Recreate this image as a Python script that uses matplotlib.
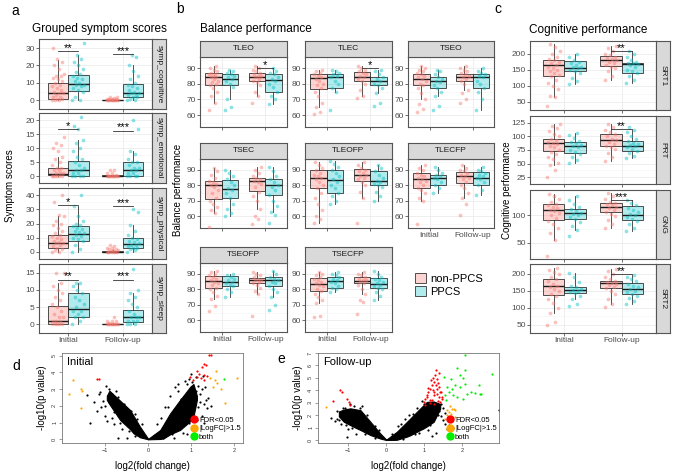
import numpy as np
import matplotlib
matplotlib.use("Agg")
import matplotlib.pyplot as plt
from matplotlib.patches import Patch
from matplotlib.lines import Line2D
from matplotlib.colors import to_rgba

plt.rcParams['font.family'] = ['Liberation Sans', 'DejaVu Sans']

NON = '#F8766D'
PP = '#00BFC4'
groups = ['non-PPCS', 'PPCS']
times = ['Initial', 'Follow-up']

# ---------------- panel a: grouped symptom scores ----------------
symp_names = ['symp_cognitive', 'symp_emotional', 'symp_physical', 'symp_sleep']
# box stats per box: [whisker low, q1, median, q3, whisker high]
# order: Initial non-PPCS, Initial PPCS, Follow-up non-PPCS, Follow-up PPCS
cog_stats = [[0, 1, 4, 10, 23], [0, 5.5, 9.5, 14.5, 26], [0, 0, 0.2, 0.4, 0.8], [0, 2, 4, 9.5, 20]]
emo_stats = [[0, 0.3, 0.8, 3, 7], [0, 0, 2, 5.5, 13], [0, 0, 0, 0.2, 0.5], [0, 0, 2, 5, 9]]
phy_stats = [[0, 3, 6, 12, 25], [0, 8, 12.5, 18, 32], [0, 0, 0.2, 0.5, 1], [0, 3, 5.5, 10, 19]]
slp_stats = [[0, 0, 1, 5.2, 12], [0, 2, 4.6, 9, 12], [0, 0, 0, 0.1, 0.3], [0, 0.7, 2, 4.2, 9]]

cog_pts = [[0, 0, 0, 1, 1, 2, 2, 3, 4, 4, 5, 6, 7, 8, 9, 10, 11, 12, 13, 14, 14, 15, 18, 20, 22, 24, 30],
           [0, 0, 2, 5, 6, 7, 8, 9, 9, 10, 11, 12, 13, 14, 15, 16, 18, 20, 22, 24, 26, 33],
           [0, 0, 0, 0, 0, 0, 0, 0, 0, 0, 0.5, 0.5, 1, 1, 1.5, 2, 2],
           [0, 0, 1, 2, 2, 3, 3, 4, 4, 5, 6, 7, 8, 9, 10, 12, 14, 17, 20, 25, 26]]
emo_pts = [[0, 0, 0, 0, 0, 0, 1, 1, 1, 2, 2, 3, 3, 4, 5, 6, 7, 9, 10, 11, 12, 14],
           [0, 0, 0, 0, 1, 1, 2, 2, 3, 4, 5, 6, 7, 9, 10, 12, 13, 17, 18, 21],
           [0, 0, 0, 0, 0, 0, 0, 0, 0, 0, 0, 0.5, 1, 1, 2, 2],
           [0, 0, 0, 0, 1, 1, 2, 2, 3, 3, 4, 5, 5, 6, 8, 9, 17, 20]]
phy_pts = [[0, 0, 1, 2, 3, 4, 5, 6, 6, 7, 8, 9, 10, 11, 12, 13, 15, 17, 19, 20, 22, 25, 26, 35, 40],
           [0, 2, 5, 8, 9, 10, 11, 12, 13, 14, 15, 16, 17, 18, 19, 20, 22, 25, 32, 40],
           [0, 0, 0, 0, 0, 0, 0, 0.5, 1, 1, 2, 2, 3, 3, 4, 5],
           [0, 1, 2, 3, 3, 4, 5, 5, 6, 7, 8, 9, 10, 12, 15, 19, 28, 30]]
slp_pts = [[0, 0, 0, 0, 0, 1, 1, 1, 2, 2, 3, 4, 5, 6, 7, 8, 9, 10, 11, 12, 15, 15],
           [0, 1, 2, 2, 3, 4, 4, 5, 6, 7, 8, 9, 10, 11, 12, 12],
           [0, 0, 0, 0, 0, 0, 0, 0, 0, 0, 0.5, 1, 1, 1, 2],
           [0, 0, 0, 1, 1, 1, 2, 2, 2, 3, 4, 5, 6, 7, 8, 9, 10, 16]]
# significance: (time index, label, bracket height)
cog_sig = [(0, '**', 28.4), (1, '***', 26.5)]
emo_sig = [(0, '*', 16.9), (1, '***', 16.3)]
phy_sig = [(0, '*', 32.9), (1, '***', 32.3)]
slp_sig = [(0, '**', 13.0), (1, '***', 13.0)]

# ---------------- panel b: balance performance ----------------
bal_names = ['TLEO', 'TLEC', 'TSEO', 'TSEC', 'TLEOFP', 'TLECFP', 'TSEOFP', 'TSECFP']
tleo_stats = [[68, 79, 84, 87, 91], [70, 79.5, 83, 86.5, 89], [72, 81.5, 84.5, 87, 91], [67, 75, 82.5, 86, 90]]
tlec_stats = [[65, 76.5, 83.5, 86, 89], [75, 77.5, 84, 86.5, 89], [72, 81.5, 84.5, 87.5, 91], [74, 79.5, 82, 84, 89]]
tseo_stats = [[70, 79.5, 83, 86.5, 91], [72, 77.5, 82, 84.5, 89], [76, 82, 84.5, 86.5, 91], [63, 77, 84, 86.5, 90]]
tsec_stats = [[62, 71.5, 80, 82.5, 91], [60, 72, 77.5, 83.5, 90], [65, 76.5, 82.5, 85, 92], [63, 73.5, 80, 84, 92]]
tleofp_stats = [[56, 78, 85, 90, 95], [68, 75, 83.5, 90, 96], [72, 82.5, 86.5, 90.5, 95], [70, 80, 82.5, 89, 93]]
tlecfp_stats = [[70, 78, 84, 88, 93], [75, 80.5, 85, 87, 92], [72, 81.5, 86, 88.5, 93], [74, 80.5, 85, 88.5, 92]]
tseofp_stats = [[74, 81, 85.5, 88.5, 92], [75, 82, 85, 88.5, 90], [77, 84, 86, 87.5, 91], [75, 82, 86, 88, 92]]
tsecfp_stats = [[71, 79, 83.5, 87.5, 91], [78, 81, 85.5, 88, 91], [77, 84, 85.5, 88, 91], [73, 81, 83.5, 87.5, 92]]

tleo_pts = [[63, 68, 72, 75, 77, 79, 80, 81, 82, 83, 84, 84, 85, 86, 86, 87, 88, 89, 90, 91],
            [63, 65, 70, 78, 80, 82, 83, 84, 85, 86, 87, 88, 89],
            [68, 72, 75, 79, 81, 82, 83, 84, 85, 85, 86, 87, 88, 89, 90, 91],
            [67, 70, 72, 75, 78, 80, 82, 83, 84, 86, 87, 88, 90]]
tlec_pts = [[61, 62, 65, 68, 72, 75, 77, 79, 80, 82, 83, 84, 85, 86, 87, 88, 89],
            [63, 75, 77, 80, 82, 84, 85, 86, 87, 88, 89],
            [71, 72, 76, 80, 82, 83, 84, 85, 86, 87, 88, 89, 90, 91],
            [66, 68, 74, 77, 79, 80, 82, 83, 84, 86, 88, 89]]
tseo_pts = [[62, 64, 67, 70, 74, 77, 79, 80, 82, 83, 84, 85, 86, 87, 88, 89, 90, 91],
            [63, 66, 72, 75, 77, 79, 81, 82, 83, 84, 86, 88, 89],
            [68, 70, 74, 76, 80, 82, 83, 84, 85, 86, 87, 88, 89, 90, 91],
            [63, 70, 75, 77, 80, 82, 84, 85, 86, 87, 88, 90]]
tsec_pts = [[53, 62, 64, 66, 68, 70, 72, 75, 77, 79, 80, 81, 82, 83, 85, 87, 89, 91],
            [60, 62, 65, 68, 72, 75, 77, 78, 80, 82, 84, 86, 88, 90],
            [55, 58, 60, 65, 70, 73, 76, 79, 81, 82, 83, 84, 85, 86, 88, 90, 92],
            [56, 61, 63, 67, 70, 74, 77, 79, 80, 82, 84, 86, 89, 92]]
tleofp_pts = [[56, 58, 60, 64, 68, 72, 75, 78, 80, 82, 84, 85, 86, 87, 88, 90, 91, 93, 95],
              [68, 70, 73, 75, 78, 80, 82, 84, 86, 88, 90, 92, 94, 96],
              [56, 72, 76, 80, 82, 84, 85, 86, 87, 88, 89, 90, 91, 93, 95],
              [70, 73, 76, 79, 80, 81, 82, 83, 85, 87, 89, 91, 93]]
tlecfp_pts = [[55, 70, 72, 75, 77, 78, 80, 82, 83, 84, 85, 86, 87, 88, 90, 91, 93],
              [75, 78, 80, 82, 84, 85, 86, 87, 88, 90, 92],
              [61, 68, 72, 75, 78, 80, 82, 84, 85, 86, 87, 88, 89, 90, 91, 93],
              [74, 77, 80, 82, 84, 85, 86, 87, 88, 89, 90, 92]]
tseofp_pts = [[66, 69, 74, 76, 78, 80, 81, 83, 84, 85, 86, 87, 88, 89, 90, 91, 92],
              [75, 78, 80, 82, 83, 84, 85, 86, 87, 88, 89, 90],
              [63, 77, 79, 81, 83, 84, 85, 86, 86, 87, 88, 89, 90, 91],
              [67, 70, 75, 78, 80, 82, 84, 85, 86, 87, 88, 90, 92]]
tsecfp_pts = [[62, 63, 71, 73, 75, 77, 79, 80, 82, 83, 84, 85, 86, 87, 88, 89, 90, 91],
              [78, 80, 81, 82, 84, 85, 86, 87, 88, 89, 90, 91],
              [64, 72, 73, 77, 80, 83, 84, 85, 86, 86, 87, 88, 89, 90, 91],
              [73, 76, 78, 80, 81, 82, 83, 84, 85, 86, 87, 88, 90, 92]]
tleo_sig = [(1, '*', 89.8)]
tlec_sig = [(1, '*', 89.8)]

# ---------------- panel c: cognitive performance ----------------
cog_names = ['SRT1', 'PRT', 'GNG', 'SRT2']
srt1_stats = [[65, 132, 165, 181, 230], [105, 145, 157, 177, 200], [118, 163, 180, 193, 225], [110, 140, 168, 172, 208]]
prt_stats = [[48, 73, 87, 96, 123], [52, 70, 82, 89, 107], [55, 83, 93, 105, 122], [60, 74, 83, 92, 112]]
gng_stats = [[55, 91, 110, 120, 138], [73, 94, 104, 112, 135], [78, 106, 116, 122, 140], [72, 92, 101, 117, 127]]
srt2_stats = [[85, 137, 164, 186, 218], [125, 142, 152, 161, 203], [110, 157, 172, 180, 213], [110, 139, 154, 172, 197]]

srt1_pts = [[37, 65, 70, 90, 100, 110, 120, 130, 135, 140, 145, 150, 155, 160, 165, 170, 175, 180, 185, 190, 200, 210, 220, 230],
            [105, 115, 125, 140, 145, 150, 155, 158, 160, 165, 170, 175, 180, 190, 200],
            [118, 130, 145, 155, 160, 165, 170, 175, 180, 183, 186, 190, 195, 200, 210, 218, 225],
            [110, 120, 130, 140, 145, 150, 160, 165, 168, 170, 172, 175, 180, 190, 200, 208]]
prt_pts = [[25, 38, 48, 52, 58, 62, 68, 72, 75, 80, 83, 86, 88, 90, 93, 96, 100, 105, 110, 115, 120, 123],
           [52, 56, 62, 68, 72, 75, 80, 82, 85, 87, 89, 92, 97, 103, 107],
           [55, 62, 70, 76, 80, 83, 86, 90, 93, 96, 100, 104, 108, 112, 118, 122],
           [60, 64, 70, 74, 77, 80, 82, 84, 86, 88, 91, 95, 100, 108, 112, 118]]
gng_pts = [[27, 55, 68, 78, 85, 90, 95, 100, 104, 108, 110, 113, 116, 118, 121, 125, 130, 135, 138],
           [62, 73, 80, 88, 93, 97, 100, 103, 105, 108, 111, 115, 120, 127, 135],
           [78, 85, 92, 98, 103, 106, 110, 113, 116, 118, 120, 122, 125, 130, 135, 140],
           [72, 78, 84, 90, 93, 97, 100, 102, 106, 110, 114, 118, 122, 127]]
srt2_pts = [[50, 58, 85, 100, 115, 125, 135, 140, 148, 155, 160, 165, 170, 178, 185, 190, 198, 205, 212, 218],
            [105, 110, 125, 135, 142, 146, 150, 153, 156, 160, 165, 175, 190, 203],
            [103, 110, 125, 140, 150, 157, 162, 167, 170, 173, 176, 180, 185, 192, 200, 207, 213],
            [110, 120, 128, 135, 140, 145, 150, 155, 160, 165, 170, 178, 185, 192, 197]]
srt1_sig = [(1, '**', 210)]
prt_sig = [(1, '**', 113)]
gng_sig = [(1, '***', 127)]
srt2_sig = [(1, '**', 199)]

# ---------------- panels d/e: volcano plots ----------------
# dense core of the black cloud (envelopes)
d_left_x = [-0.96, -0.9, -0.65, -0.42, -0.34, -0.19, 0]
d_left_hi = [2.6, 2.9, 2.3, 1.75, 1.4, 0.75, 0.03]
d_left_lo = [2.35, 2.1, 1.15, 0.6, 0.36, 0.12, 0]
d_right_x = [0, 0.28, 0.36, 0.51, 0.74, 0.98, 1.05, 1.13]
d_right_hi = [0.03, 0.56, 0.9, 1.55, 2.35, 3.15, 3.3, 2.6]
d_right_lo = [0, 0.02, 0.06, 0.3, 0.56, 1.1, 1.35, 2.35]
d_black_x = [-1.36, -1.12, -1.15, -1.18, -1.25, -1.43, -0.92, -1.05, -1.0, -0.95, -1.1, -0.85, -0.7, -0.6,
             1.38, 1.33, 1.13, 1.36, 0.63, 0.9, 1.02, 1.1, 1.2, 1.25, 1.3, 0.5, 0.7, 0.95, 1.15, 1.45,
             1.05, 0.9, 0.6, -0.7, -0.5, 1.25, 0.8, 0.4, -0.3, 1.28,
             -0.9, -0.8, -0.75, -0.65, -0.55, -0.45, -0.4, -0.3, -0.25, -0.15, -0.6, -0.85, -1.0, -0.98, -0.8,
             0.2, 0.3, 0.45, 0.55, 0.65, 0.75, 0.85, 0.95, 1.0, 1.1, 1.15, 1.2, 1.3, 0.35, 0.15, 1.32, 0.7, 0.85]
d_black_y = [0.99, 2.85, 2.69, 1.69, 2.25, 2.65, 3.0, 2.3, 1.4, 1.1, 1.9, 2.7, 2.5, 1.9,
             2.49, 2.35, 1.16, 1.86, 3.15, 3.29, 3.4, 2.9, 2.2, 1.4, 1.0, 2.6, 2.9, 3.6, 3.2, 2.0,
             0.6, 0.3, 0.1, 0.1, 0.05, 3.0, 0.4, 1.9, 1.5, 3.8,
             2.2, 1.6, 2.9, 1.0, 2.1, 0.5, 1.7, 0.2, 1.2, 0.9, 0.6, 1.3, 2.0, 3.2, 0.9,
             0.9, 1.3, 1.9, 0.3, 0.6, 2.4, 0.9, 1.0, 3.9, 3.7, 1.9, 2.7, 2.1, 0.05, 0.25, 3.1, 3.3, 3.5]
d_red_x = [1.40, 1.46, 1.29, 1.25, 1.33, 1.13, 1.19, 1.29, 1.23, 1.13, 0.98, 1.05, 1.29, 1.37, -1.19, -1.14]
d_red_y = [5.05, 5.05, 4.49, 4.29, 4.41, 4.05, 3.89, 3.85, 3.65, 3.69, 3.69, 3.55, 3.55, 3.75, 3.61, 3.57]
d_orange_x = [1.57, 2.05, 1.44, 1.56, 1.60, 1.50, 1.69, 1.79, -1.74, -1.57, -1.53, -1.83, -1.57]
d_orange_y = [4.09, 3.65, 3.65, 3.55, 3.35, 3.15, 3.01, 2.16, 3.51, 3.01, 2.89, 2.71, 1.86]
d_green_x = [1.75]
d_green_y = [3.61]

e_left_x = [-1.25, -1.12, -0.95, -0.77, -0.68, -0.42, -0.16, 0]
e_left_hi = [2.3, 2.45, 2.55, 2.45, 2.4, 1.47, 0.53, 0.03]
e_left_lo = [1.9, 1.47, 1.2, 0.93, 0.8, 0.4, 0.12, 0]
e_right_x = [0, 0.28, 0.54, 0.63, 0.89, 0.98, 1.07, 1.25, 1.42]
e_right_hi = [0.03, 0.67, 1.45, 1.73, 2.53, 2.8, 3.07, 3.1, 2.9]
e_right_lo = [0, 0.02, 0.27, 0.38, 0.8, 0.93, 1.1, 1.47, 2.53]
e_black_x = [-1.03, -1.3, -1.35, -1.2, -1.1, -0.95, -0.85, -0.7, -0.5, -1.45, -1.0, -0.8,
             2.96, 1.5, 1.45, 1.55, 1.6, 1.3, 1.2, 1.5, 1.65, 1.3, 0.6, 0.8, 1.0, 1.4, 0.3, 1.75,
             -1.2, -1.15, -1.05, -0.9, -0.85, -0.6, -0.55, -0.3, -0.3, -0.2, -0.65, -1.3, -1.25,
             0.15, 0.2, 0.4, 0.45, 0.7, 0.75, 0.85, 1.1, 1.15, 1.2, 1.35, 1.45, 1.55, 0.95, 1.05, 0.5]
e_black_y = [0.27, 1.7, 1.5, 2.2, 2.6, 2.9, 2.2, 2.6, 2.0, 1.8, 0.9, 0.5,
             2.4, 2.6, 1.9, 1.3, 0.9, 0.6, 0.3, 1.6, 1.2, 2.9, 2.0, 2.6, 2.9, 2.3, 1.1, 1.0,
             1.3, 2.6, 1.2, 1.0, 2.7, 1.3, 0.5, 0.2, 1.1, 0.8, 2.7, 2.3, 1.6,
             0.5, 0.05, 1.3, 0.1, 2.1, 0.5, 0.6, 0.8, 1.2, 2.9, 2.0, 2.9, 2.2, 3.1, 2.2, 1.7]
e_red_x = [1.29, 1.33, 1.25, 1.2, 1.16, 1.11, 1.07, 1.03, 1.33, 1.42, 1.38, 1.25, 1.47, 1.2, 1.03, 1.47,
           1.42, 1.25, 1.16, 1.33, 1.3, 1.22, 1.36, 1.4, 1.18, 1.1, 1.27, 1.35, 1.45, 1.14, 1.31, 1.24,
           1.0, 1.08, 1.38, -1.21, -1.17, -1.03, -0.99, -0.96, -1.4]
e_red_y = [5.25, 4.93, 4.67, 4.4, 4.13, 3.87, 3.6, 3.33, 4.13, 3.87, 3.47, 3.6, 3.33, 3.2, 2.8, 3.47,
           3.07, 2.93, 3.2, 3.73, 5.6, 5.0, 4.6, 4.3, 4.8, 4.2, 3.9, 3.1, 3.9, 3.0, 4.45, 4.0,
           3.05, 3.45, 5.4, 4.0, 3.87, 3.33, 3.07, 2.85, 3.12]
e_orange_x = [-1.6, 1.68, 1.73, 1.82, 1.64, 1.6, 1.79, 1.6, 1.82, 1.55, 1.7]
e_orange_y = [2.67, 2.72, 2.53, 2.4, 2.27, 2.4, 2.53, 2.0, 1.87, 1.68, 2.1]
e_green_x = [2.08, 2.78, 1.86, 1.93, 2.02, 2.08, 1.51, 1.6, 1.73, 1.82, 1.95, 2.23, 2.34, 2.43, 2.49,
             2.03, 1.86, 1.55, 1.64, 1.77, 2.12, 2.47, 2.08, 1.7, 1.58]
e_green_y = [6.8, 5.33, 5.79, 5.2, 4.99, 5.6, 5.07, 4.27, 4.13, 4.4, 4.27, 3.87, 3.79, 4.4, 3.73,
             3.33, 3.47, 3.6, 3.87, 3.6, 3.73, 3.73, 4.53, 4.9, 3.2]

# ---------------- drawing ----------------
W, H = 678, 472
fig = plt.figure(figsize=(W / 100, H / 100), dpi=100)


def px_axes(x0, y0, x1, y1):
    return fig.add_axes([x0 / W, 1 - y1 / H, (x1 - x0) / W, (y1 - y0) / H])


def strip(x0, y0, x1, y1, label, vertical=False):
    s = px_axes(x0, y0, x1, y1)
    s.set_facecolor('#D9D9D9')
    s.set_xticks([])
    s.set_yticks([])
    for sp in s.spines.values():
        sp.set_color('#555555')
        sp.set_linewidth(0.8)
    s.text(0.5, 0.5, label, rotation=-90 if vertical else 0, ha='center', va='center',
           fontsize=6, color='#1A1A1A', transform=s.transAxes)


def facet(box, stats, pts, ylim, yticks, xlim, sig=None, xlabels=False):
    ax = px_axes(*box)
    pos = [1 - 0.1875, 1 + 0.1875, 2 - 0.1875, 2 + 0.1875]
    cols = [NON, PP, NON, PP]
    bx = [dict(whislo=s[0], q1=s[1], med=s[2], q3=s[3], whishi=s[4]) for s in stats]
    art = ax.bxp(bx, positions=pos, widths=0.375, patch_artist=True, showfliers=False,
                 showcaps=False, manage_ticks=False,
                 boxprops=dict(edgecolor='#333333', linewidth=0.6),
                 whiskerprops=dict(color='#333333', linewidth=0.6),
                 medianprops=dict(color='#1A1A1A', linewidth=1.0))
    for patch, c in zip(art['boxes'], cols):
        patch.set_facecolor(to_rgba(c, 0.3))
        patch.set_zorder(2)
    for p, vals, c in zip(pos, pts, cols):
        offs = np.array([((i * 0.618034) % 1 - 0.5) * 0.22 for i in range(len(vals))])
        ax.scatter(p + offs, vals, s=7, color=c, alpha=0.45, lw=0, zorder=3)
    if sig:
        for t, lab, yv in sig:
            ax.plot([pos[2 * t], pos[2 * t + 1]], [yv, yv], color='#333333', lw=0.6, zorder=4)
            ax.text((pos[2 * t] + pos[2 * t + 1]) / 2, yv, lab, ha='center', va='baseline',
                    fontsize=8, color='black', zorder=5)
    ax.set_xlim(*xlim)
    ax.set_ylim(*ylim)
    ax.set_yticks(yticks)
    step = yticks[1] - yticks[0]
    ax.set_yticks([v - step / 2 for v in yticks] + [yticks[-1] + step / 2], minor=True)
    ax.set_xticks([1, 2])
    ax.set_xticklabels(times if xlabels else ['', ''])
    ax.grid(which='major', color='#EBEBEB', lw=0.6)
    ax.grid(which='minor', axis='y', color='#F4F4F4', lw=0.4)
    ax.set_axisbelow(True)
    ax.tick_params(which='major', length=2, width=0.5, color='#333333', labelsize=6,
                   labelcolor='#4D4D4D', pad=1)
    ax.tick_params(which='minor', length=0)
    for sp in ax.spines.values():
        sp.set_color('#555555')
        sp.set_linewidth(0.8)
    return ax


# panel a
a_rows = [(39, 109), (113, 183), (188, 259), (264, 333)]
a_data = [(cog_stats, cog_pts, (-1.2, 35.2), [0, 10, 20, 30], cog_sig),
          (emo_stats, emo_pts, (-1.0, 22.6), [0, 5, 10, 15, 20], emo_sig),
          (phy_stats, phy_pts, (-1.8, 41.7), [0, 10, 20, 30, 40], phy_sig),
          (slp_stats, slp_pts, (-0.9, 16.3), [0, 5, 10, 15], slp_sig)]
for i, ((y0, y1), (st, pt, yl, yt, sg)) in enumerate(zip(a_rows, a_data)):
    facet((39, y0, 152, y1), st, pt, yl, yt, (0.47, 2.53), sg, xlabels=(i == 3))
    strip(152, y0, 166, y1, symp_names[i], vertical=True)

# panel b
b_cols = [(200, 287), (305, 392), (408, 494)]
b_rows = [(41, 57, 127), (143, 159, 228), (247, 263, 332)]
b_data = [(tleo_stats, tleo_pts, tleo_sig), (tlec_stats, tlec_pts, tlec_sig), (tseo_stats, tseo_pts, None),
          (tsec_stats, tsec_pts, None), (tleofp_stats, tleofp_pts, None), (tlecfp_stats, tlecfp_pts, None),
          (tseofp_stats, tseofp_pts, None), (tsecfp_stats, tsecfp_pts, None)]
for k, (st, pt, sg) in enumerate(b_data):
    r, c = divmod(k, 3)
    x0, x1 = b_cols[c]
    s0, p0, p1 = b_rows[r]
    show_x = (r == 2) or (r == 1 and c == 2)
    facet((x0, p0, x1, p1), st, pt, (52.5, 97), [60, 70, 80, 90], (0.5, 2.5), sg, xlabels=show_x)
    strip(x0, s0, x1, p0, bal_names[k])

# panel c
c_rows = [(41, 110), (116, 184), (190, 259), (264, 333)]
c_data = [(srt1_stats, srt1_pts, (31, 240), [50, 100, 150, 200], srt1_sig),
          (prt_stats, prt_pts, (21.4, 128.6), [25, 50, 75, 100, 125], prt_sig),
          (gng_stats, gng_pts, (21, 146), [50, 100], gng_sig),
          (srt2_stats, srt2_pts, (45.5, 229), [50, 100, 150, 200], srt2_sig)]
for i, ((y0, y1), (st, pt, yl, yt, sg)) in enumerate(zip(c_rows, c_data)):
    facet((530, y0, 656, y1), st, pt, yl, yt, (0.4, 2.6), sg, xlabels=(i == 3))
    strip(656, y0, 670, y1, cog_names[i], vertical=True)

# legend of b
handles = [Patch(facecolor=to_rgba(NON, 0.3), edgecolor='#333333', lw=0.6),
           Patch(facecolor=to_rgba(PP, 0.3), edgecolor='#333333', lw=0.6)]
fig.legend(handles, groups, loc='upper left', bbox_to_anchor=(405 / W, 1 - 263 / H), frameon=False,
           fontsize=8, handlelength=1.0, handleheight=1.0, handletextpad=0.4, labelspacing=0.2)


def volcano(box, lx, lhi, llo, rx, rhi, rlo, bx, by, rdx, rdy, ox, oy, gx, gy, xlim, ylim, yticks, title):
    ax = px_axes(*box)
    ax.fill_between(lx, llo, lhi, color='black', lw=0.8, edgecolor='black')
    ax.fill_between(rx, rlo, rhi, color='black', lw=0.8, edgecolor='black')
    ax.scatter(bx, by, s=2.5, color='black', lw=0)
    ax.scatter(rdx, rdy, s=2.5, color='#FF0000', lw=0)
    ax.scatter(ox, oy, s=2.5, color='#FFA500', lw=0)
    ax.scatter(gx, gy, s=2.5, color='#00EE00', lw=0)
    ax.set_xlim(*xlim)
    ax.set_ylim(*ylim)
    ax.set_xticks([-1, 0, 1, 2])
    ax.set_yticks(yticks)
    ax.tick_params(length=2, width=0.4, color='#555555', labelsize=4, labelcolor='#333333', pad=1.5)
    for lab in ax.get_yticklabels():
        lab.set_rotation(90)
        lab.set_va('center')
    for sp in ax.spines.values():
        sp.set_color('#777777')
        sp.set_linewidth(0.6)
    ax.text(0.03, 0.9, title, transform=ax.transAxes, fontsize=8, va='center')
    ax.set_xlabel('log2(fold change)', fontsize=7, labelpad=6)
    ax.set_ylabel('-log10(p value)', fontsize=7, labelpad=4)
    leg_h = [Line2D([], [], marker='o', ls='', color=c, markersize=5) for c in ['#FF0000', '#FFA500', '#00EE00']]
    ax.legend(leg_h, ['FDR<0.05', '|LogFC|>1.5', 'both'], loc='lower right', frameon=False, fontsize=5.5,
              handlelength=0.8, handletextpad=0.2, labelspacing=0.15, borderpad=0.2, borderaxespad=0.1)
    return ax


volcano((62, 353, 243, 443), d_left_x, d_left_hi, d_left_lo, d_right_x, d_right_hi, d_right_lo,
        d_black_x, d_black_y, d_red_x, d_red_y, d_orange_x, d_orange_y, d_green_x, d_green_y,
        (-2.0, 2.2), (-0.22, 5.15), [0, 1, 2, 3, 4, 5], 'Initial')
volcano((318, 353, 499, 443), e_left_x, e_left_hi, e_left_lo, e_right_x, e_right_hi, e_right_lo,
        e_black_x, e_black_y, e_red_x, e_red_y, e_orange_x, e_orange_y, e_green_x, e_green_y,
        (-1.8, 2.97), (-0.24, 7.0), [0, 1, 2, 3, 4, 5, 6, 7], 'Follow-up')

# titles, axis labels, panel letters
fig.text(99 / W, 1 - 29 / H, 'Grouped symptom scores', ha='center', va='center', fontsize=8.5)
fig.text(200 / W, 1 - 29 / H, 'Balance performance', ha='left', va='center', fontsize=8.5)
fig.text(588 / W, 1 - 30 / H, 'Cognitive performance', ha='center', va='center', fontsize=8.5)
fig.text(10 / W, 1 - 186 / H, 'Symptom scores', rotation=90, ha='center', va='center', fontsize=7)
fig.text(178 / W, 1 - 190 / H, 'Balance performance', rotation=90, ha='center', va='center', fontsize=7)
fig.text(507 / W, 1 - 190 / H, 'Cognitive performance', rotation=90, ha='center', va='center', fontsize=7)
for lab, x, y in [('a', 15, 11), ('b', 180, 9), ('c', 498, 9), ('d', 16, 366), ('e', 281, 359)]:
    fig.text(x / W, 1 - y / H, lab, ha='center', va='center', fontsize=10)

fig.savefig('out.png', dpi=100)
